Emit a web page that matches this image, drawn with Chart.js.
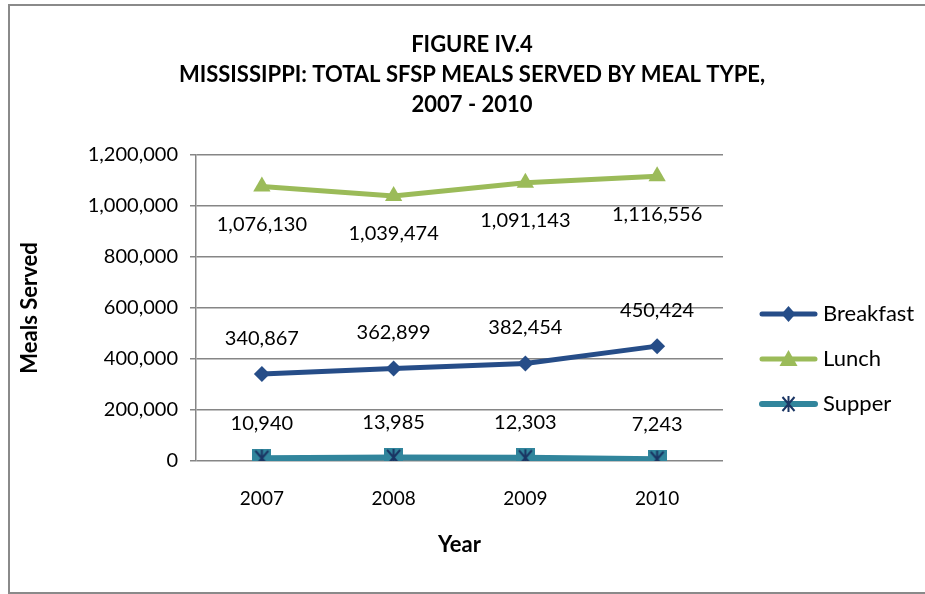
<!DOCTYPE html>
<html>
<head>
<meta charset="utf-8">
<script src="https://cdn.jsdelivr.net/npm/chart.js@4.4.1/dist/chart.umd.min.js"></script>
<style>
  html, body { margin: 0; padding: 0; background: #fff; }
  #frame { position: absolute; left: 8px; top: 4px; width: 940px; height: 586px; border: 2px solid #8a8a8a; }
  #chart { position: absolute; left: 0; top: 0; }
</style>
</head>
<body>
<div id="frame"></div>
<canvas id="chart" width="925" height="594"></canvas>
<script>
  const years = ['2007', '2008', '2009', '2010'];
  const breakfast = [340867, 362899, 382454, 450424];
  const lunch = [1076130, 1039474, 1091143, 1116556];
  const supper = [10940, 13985, 12303, 7243];
  const yTicks = [0, 200000, 400000, 600000, 800000, 1000000, 1200000];
  const titleLines = ['FIGURE IV.4', 'MISSISSIPPI: TOTAL SFSP MEALS SERVED BY MEAL TYPE,', '2007 - 2010'];

  const C = {
    breakfast: '#264D88',
    lunch: '#9BBB59',
    supper: '#31859C',
    supperMark: '#1A3563',
    grid: '#868686',
    text: '#000'
  };
  const FONT = 'Lato, "Open Sans", sans-serif';

  // the X-with-vertical-stroke glyph of the supper marker
  function drawCross(g, cx, cy, half) {
    g.strokeStyle = C.supperMark;
    g.lineWidth = 2;
    g.beginPath();
    g.moveTo(cx - half + 2, cy - half + 1); g.lineTo(cx + half - 2, cy + half - 1);
    g.moveTo(cx + half - 2, cy - half + 1); g.lineTo(cx - half + 2, cy + half - 1);
    g.moveTo(cx, cy - half); g.lineTo(cx, cy + half);
    g.stroke();
  }

  // teal square with the cross on top, used as pointStyle for supper
  function supperMarker(size) {
    const c = document.createElement('canvas');
    c.width = size; c.height = size;
    const g = c.getContext('2d');
    g.fillStyle = C.supper;
    g.fillRect(0, 0, size, size);
    drawCross(g, size / 2, size / 2, size / 2 - 1);
    return c;
  }

  function drawMarker(g, style, x, y, color) {
    g.fillStyle = color;
    g.beginPath();
    if (style === 'rectRot') {
      g.moveTo(x, y - 8); g.lineTo(x + 7, y); g.lineTo(x, y + 8); g.lineTo(x - 7, y);
    } else if (style === 'triangle') {
      g.moveTo(x, y - 9); g.lineTo(x + 9, y + 7); g.lineTo(x - 9, y + 7);
    }
    g.closePath();
    g.fill();
  }

  const valueLabels = {
    id: 'valueLabels',
    afterDatasetsDraw(chart) {
      const ctx = chart.ctx;
      ctx.save();
      ctx.font = '20px ' + FONT;
      ctx.fillStyle = C.text;
      ctx.textAlign = 'center';
      ctx.textBaseline = 'middle';
      chart.data.datasets.forEach((ds, i) => {
        chart.getDatasetMeta(i).data.forEach((pt, j) => {
          ctx.fillText(ds.data[j].toLocaleString('en-US'), pt.x, pt.y + ds.labelOffset);
        });
      });
      ctx.restore();
    }
  };

  const sideLegend = {
    id: 'sideLegend',
    afterDraw(chart) {
      const ctx = chart.ctx;
      const x0 = 762, x1 = 815;
      ctx.save();
      ctx.font = '22px ' + FONT;
      ctx.textBaseline = 'middle';
      chart.data.datasets.forEach((ds, i) => {
        const y = 314 + i * 45;
        ctx.strokeStyle = ds.borderColor;
        ctx.lineWidth = ds.borderWidth;
        ctx.lineCap = 'round';
        ctx.beginPath();
        ctx.moveTo(x0, y); ctx.lineTo(x1, y);
        ctx.stroke();
        const mx = (x0 + x1) / 2;
        if (ds.pointStyle instanceof HTMLCanvasElement) {
          ctx.lineCap = 'butt';
          drawCross(ctx, mx, y, 8);
        } else {
          drawMarker(ctx, ds.pointStyle, mx, y, ds.borderColor);
        }
        ctx.fillStyle = C.text;
        ctx.fillText(ds.label, 823, y);
      });
      ctx.restore();
    }
  };

  const headline = {
    id: 'headline',
    afterDraw(chart) {
      const ctx = chart.ctx;
      ctx.save();
      ctx.font = 'bold 22px ' + FONT;
      ctx.fillStyle = C.text;
      ctx.textAlign = 'center';
      ctx.textBaseline = 'middle';
      titleLines.forEach((t, i) => ctx.fillText(t, 472, 45 + i * 30));
      ctx.restore();
    }
  };

  new Chart(document.getElementById('chart'), {
    type: 'line',
    data: {
      labels: years,
      datasets: [
        {
          label: 'Breakfast', data: breakfast,
          borderColor: C.breakfast, backgroundColor: C.breakfast,
          borderWidth: 5, pointStyle: 'rectRot', pointRadius: 8,
          pointBorderWidth: 0, labelOffset: -36
        },
        {
          label: 'Lunch', data: lunch,
          borderColor: C.lunch, backgroundColor: C.lunch,
          borderWidth: 5, pointStyle: 'triangle', pointRadius: 10,
          pointBorderWidth: 0, labelOffset: 38
        },
        {
          label: 'Supper', data: supper,
          borderColor: C.supper, backgroundColor: C.supper,
          borderWidth: 6, pointStyle: supperMarker(19),
          labelOffset: -35
        }
      ]
    },
    options: {
      responsive: false,
      animation: false,
      events: [],
      layout: { padding: { left: 15, right: 202, top: 155, bottom: 34 } },
      plugins: {
        legend: { display: false },
        title: { display: false },
        tooltip: { enabled: false }
      },
      scales: {
        x: {
          offset: true,
          grid: { display: false },
          border: { display: false },
          ticks: { color: C.text, font: { family: FONT, size: 19 }, padding: 18 },
          title: { display: true, text: 'Year', color: C.text, font: { family: FONT, size: 22, weight: 'bold' }, padding: { top: 4, bottom: 2 } },
          afterFit: (s) => { s.height = 560 - 461; }
        },
        y: {
          min: 0, max: 1200000,
          afterBuildTicks: (s) => { s.ticks = yTicks.map(v => ({ value: v })); },
          grid: { color: C.grid, lineWidth: 1.5, tickLength: 6 },
          border: { color: C.grid, width: 1.5 },
          ticks: {
            color: C.text, font: { family: FONT, size: 20 }, padding: 12,
            callback: (v) => v.toLocaleString('en-US')
          },
          title: { display: true, text: 'Meals Served', color: C.text, font: { family: FONT, size: 22, weight: 'bold' }, padding: { top: 2, bottom: 4 } },
          afterFit: (s) => { s.width = 196 - 15; }
        }
      }
    },
    plugins: [valueLabels, sideLegend, headline]
  });
</script>
</body>
</html>
